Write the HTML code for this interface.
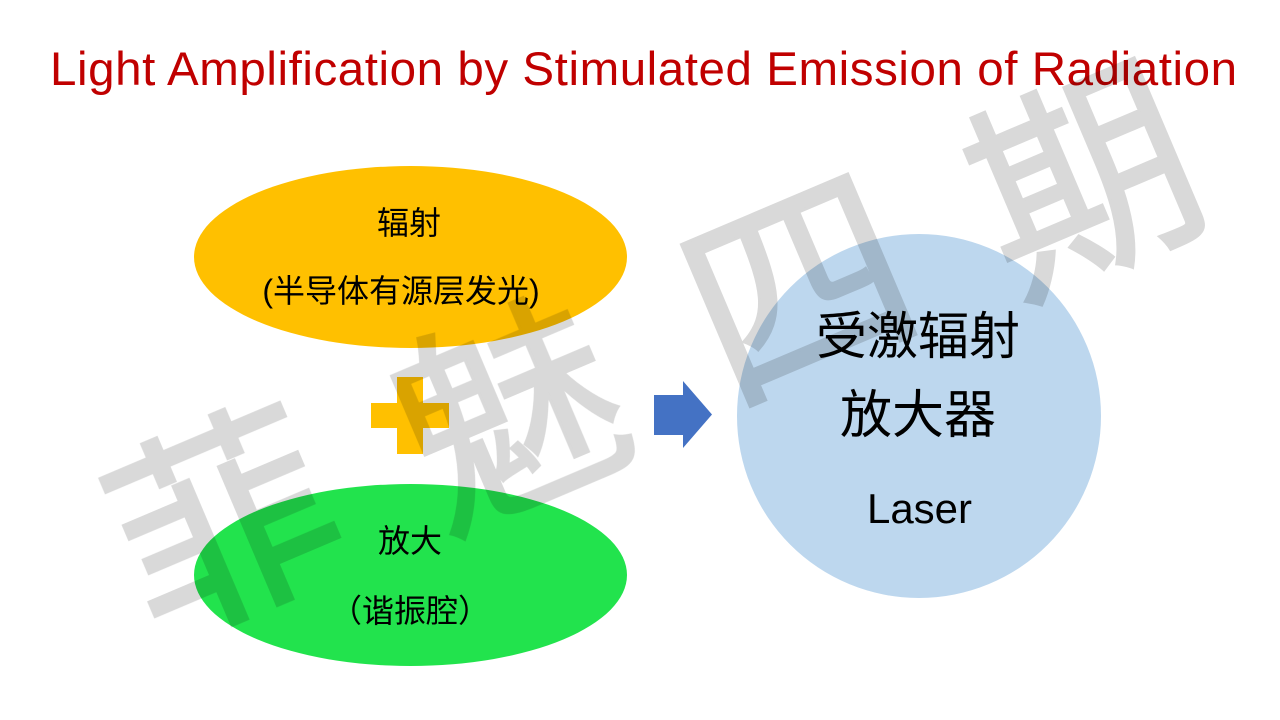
<!DOCTYPE html>
<html><head><meta charset="utf-8"><style>
html,body{margin:0;padding:0;background:#fff;width:1280px;height:720px;overflow:hidden}
svg{display:block}
.c{font-family:"Liberation Sans","Noto Sans CJK SC",sans-serif;fill:#000;text-anchor:middle}
.w{font-family:"Noto Sans CJK SC",sans-serif;font-size:220px;font-weight:400;fill:#d9d9d9;stroke:#d9d9d9;stroke-width:3;stroke-linejoin:miter;text-anchor:middle}
</style></head><body>
<svg width="1280" height="720" viewBox="0 0 1280 720" xmlns="http://www.w3.org/2000/svg">
<rect width="1280" height="720" fill="#fff"/>
<text x="50" y="85" textLength="1187" lengthAdjust="spacing" font-family="Liberation Sans, sans-serif" font-size="47.5" fill="#c00000">Light Amplification by Stimulated Emission of Radiation</text>
<ellipse cx="410.5" cy="257" rx="216.5" ry="91" fill="#ffc000"/>
<ellipse cx="410.5" cy="575" rx="216.5" ry="91" fill="#22e34d"/>
<circle cx="919" cy="416" r="182" fill="#bdd7ee"/>
<polygon points="397,377 423,377 423,403 449,403 449,428 423,428 423,454 397,454 397,428 371,428 371,403 397,403" fill="#ffc000"/>
<polygon points="654,395 683,395 683,381 712,414.5 683,448 683,435 654,435" fill="#4472c4"/>
<text class="c" x="409" y="234" font-size="32">辐射</text>
<text class="c" x="401" y="302" font-size="32">(半导体有源层发光)</text>
<text class="c" x="410" y="552" font-size="32">放大</text>
<text class="c" x="410" y="622" font-size="32">（谐振腔）</text>
<text class="c" x="918" y="354" font-size="51">受激辐射</text>
<text class="c" x="918" y="433" font-size="52">放大器</text>
<text class="c" x="919.5" y="523" font-size="42">Laser</text>
<g style="mix-blend-mode:multiply">
<text class="w" transform="translate(224,522) rotate(-23) translate(0,81)">菲</text>
<text class="w" transform="translate(510,413) rotate(-23) translate(0,81)">魅</text>
<text class="w" transform="translate(798,287) rotate(-23) translate(0,81)">四</text>
<text class="w" transform="translate(1084,180) rotate(-23) translate(0,81)">期</text>
</g>
</svg>
</body></html>
